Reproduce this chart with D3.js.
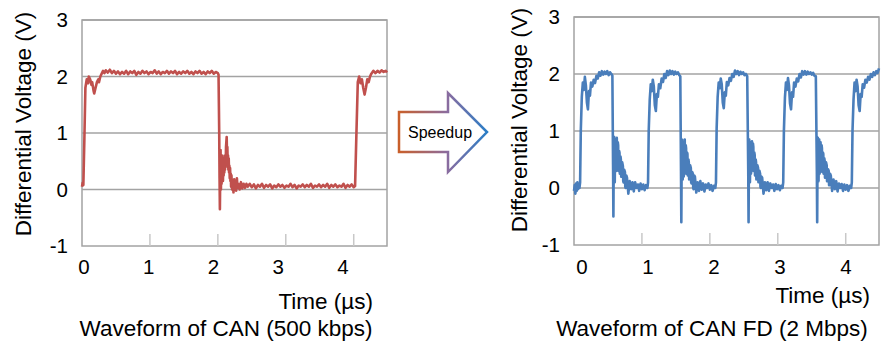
<!DOCTYPE html>
<html>
<head>
<meta charset="utf-8">
<script src="https://cdn.jsdelivr.net/npm/d3@7"></script>
<style>
  body { margin: 0; background: #fff; }
  svg { display: block; font-family: "Liberation Sans", Arial, sans-serif; }
</style>
</head>
<body>
<svg id="canvas" width="883" height="345"></svg>
<script>
// tick values shared by both panels
const voltTicks = [-1, 0, 1, 2, 3];
const timeTicks = [0, 1, 2, 3, 4];

// CAN 500 kbps, [time µs, volts]
const canWave = [
  [0.00,0.05],[0.01,0.12],[0.02,0.08],[0.035,0.9],[0.05,1.8],[0.07,1.95],[0.09,1.88],[0.10,2.0],
  [0.12,1.95],[0.14,1.85],[0.15,1.9],[0.17,1.75],[0.18,1.7],[0.20,1.8],[0.22,1.9],[0.24,1.95],
  [0.25,1.9],[0.27,2.0],[0.29,2.05],[0.31,2.1],[0.33,2.06],[0.35,2.11],[0.38,2.07],[0.41,2.12],
  [0.44,2.06],[0.47,2.1],[0.50,2.05],[0.53,2.09],[0.56,2.04],[0.59,2.08],[0.62,2.05],[0.65,2.1],
  [0.68,2.04],[0.71,2.09],[0.74,2.06],[0.77,2.1],[0.80,2.03],[0.83,2.08],[0.86,2.05],[0.89,2.1],
  [0.92,2.06],[0.95,2.09],[0.98,2.04],[1.01,2.08],[1.04,2.06],[1.07,2.11],[1.10,2.05],[1.13,2.09],
  [1.16,2.04],[1.19,2.08],[1.22,2.06],[1.25,2.1],[1.28,2.05],[1.31,2.09],[1.34,2.06],[1.37,2.1],
  [1.40,2.04],[1.43,2.08],[1.46,2.05],[1.49,2.09],[1.52,2.06],[1.55,2.1],[1.58,2.05],[1.61,2.08],
  [1.64,2.04],[1.67,2.09],[1.70,2.06],[1.73,2.1],[1.76,2.05],[1.79,2.08],[1.82,2.04],[1.85,2.09],
  [1.88,2.06],[1.91,2.1],[1.94,2.05],[1.97,2.08],[2.00,2.06],[2.01,2.03],
  [2.02,1.0],[2.025,0.2],[2.03,-0.35],[2.035,0.3],[2.04,0.7],[2.045,0.0],[2.05,0.4],[2.055,0.1],
  [2.06,0.6],[2.065,0.2],[2.07,0.45],[2.075,0.15],[2.08,0.5],[2.085,0.25],[2.09,0.55],[2.095,0.3],
  [2.10,0.6],[2.105,0.35],[2.11,0.5],[2.115,0.4],[2.12,0.75],[2.13,0.93],[2.135,0.6],[2.14,0.75],
  [2.145,0.45],[2.15,0.6],[2.155,0.35],[2.16,0.55],[2.165,0.3],[2.17,0.42],[2.175,0.2],[2.18,0.38],
  [2.185,0.15],[2.19,0.28],[2.195,0.05],[2.20,0.25],[2.21,0.0],[2.22,0.15],[2.23,-0.05],[2.24,0.18],
  [2.25,0.0],[2.26,0.12],[2.27,-0.02],[2.28,0.2],[2.29,0.03],[2.30,0.1],[2.32,0.0],[2.34,0.13],
  [2.36,0.02],[2.38,0.1],[2.40,0.03],[2.42,0.1],[2.44,0.05],[2.47,0.1],[2.50,0.04],[2.53,0.09],
  [2.56,0.02],[2.59,0.08],[2.62,0.05],[2.65,0.1],[2.68,0.03],[2.71,0.08],[2.74,0.05],[2.77,0.09],
  [2.80,0.02],[2.83,0.07],[2.86,0.04],[2.89,0.09],[2.92,0.05],[2.95,0.08],[2.98,0.03],[3.01,0.07],
  [3.04,0.05],[3.07,0.1],[3.10,0.04],[3.13,0.08],[3.16,0.02],[3.19,0.07],[3.22,0.05],[3.25,0.09],
  [3.28,0.04],[3.31,0.08],[3.34,0.05],[3.37,0.1],[3.40,0.03],[3.43,0.07],[3.46,0.05],[3.49,0.09],
  [3.52,0.04],[3.55,0.08],[3.58,0.05],[3.61,0.1],[3.64,0.03],[3.67,0.08],[3.70,0.05],[3.73,0.09],
  [3.76,0.04],[3.79,0.07],[3.82,0.05],[3.85,0.1],[3.88,0.03],[3.91,0.08],[3.94,0.05],[3.97,0.09],
  [4.00,0.04],[4.02,0.06],[4.04,1.0],[4.06,1.9],[4.08,2.0],[4.10,1.88],[4.12,1.95],[4.14,1.8],
  [4.16,1.68],[4.18,1.8],[4.20,1.95],[4.22,1.9],[4.24,2.0],[4.26,2.05],[4.29,2.1],[4.32,2.06],
  [4.35,2.1],[4.38,2.07],[4.41,2.11],[4.44,2.08],[4.47,2.1],[4.49,2.07]
];

// CAN FD 2 Mbps, [time µs, volts]
const canFdWave = [
  [0.00,-0.05],[0.01,0.05],[0.02,-0.1],[0.03,0.08],[0.04,-0.05],[0.05,0.1],[0.06,-0.02],[0.07,0.05],[0.08,0.0],
  [0.09,0.1],[0.10,1.0],[0.115,1.6],[0.13,1.85],[0.145,1.72],[0.16,1.95],[0.175,1.8],[0.19,1.5],[0.205,1.38],
  [0.22,1.7],[0.235,1.62],[0.25,1.85],[0.27,1.78],[0.29,1.9],[0.31,1.84],[0.33,1.97],[0.35,1.92],[0.37,2.03],
  [0.39,1.97],[0.41,2.05],[0.43,1.99],[0.45,2.04],[0.47,2.0],[0.49,2.05],[0.51,1.98],[0.53,2.03],[0.55,2.0],[0.565,1.97],
  [0.575,0.4],[0.58,-0.5],[0.585,0.5],[0.59,0.9],[0.595,0.2],[0.60,0.1],[0.605,0.6],[0.61,0.85],[0.615,0.3],
  [0.62,0.3],[0.625,0.7],[0.63,0.88],[0.635,0.35],[0.64,0.4],[0.645,0.8],[0.65,0.75],[0.655,0.3],[0.66,0.35],
  [0.665,0.65],[0.67,0.62],[0.675,0.25],[0.68,0.3],[0.685,0.55],[0.69,0.5],[0.695,0.2],[0.70,0.22],[0.71,0.45],
  [0.72,0.38],[0.725,0.12],[0.73,0.1],[0.74,0.32],[0.75,0.28],[0.755,0.02],[0.76,0.0],[0.77,0.22],
  [0.78,0.18],[0.80,-0.1],[0.82,0.12],[0.84,-0.02],[0.86,0.1],[0.88,-0.06],[0.90,0.1],[0.92,0.0],[0.94,0.06],
  [0.96,-0.05],[0.98,0.08],[1.00,-0.02],[1.02,0.06],[1.04,-0.04],[1.06,0.05],[1.08,0.0],
  [1.09,0.1],[1.10,1.0],[1.115,1.55],[1.13,1.82],[1.145,1.7],[1.16,1.9],[1.175,1.78],[1.19,1.45],[1.205,1.35],
  [1.22,1.65],[1.235,1.6],[1.25,1.82],[1.27,1.75],[1.29,1.92],[1.31,1.86],[1.33,2.0],[1.35,1.93],[1.37,2.05],
  [1.39,1.98],[1.41,2.06],[1.43,2.0],[1.45,2.05],[1.47,1.99],[1.49,2.04],[1.51,2.0],[1.53,2.03],[1.55,1.98],[1.565,1.96],
  [1.575,0.3],[1.58,-0.6],[1.585,0.45],[1.59,0.85],[1.595,0.25],[1.60,0.15],[1.605,0.55],[1.61,0.8],[1.615,0.2],
  [1.62,0.25],[1.625,0.7],[1.63,0.85],[1.635,0.4],[1.64,0.45],[1.645,0.75],[1.65,0.7],[1.655,0.25],[1.66,0.3],
  [1.665,0.62],[1.67,0.6],[1.675,0.22],[1.68,0.25],[1.685,0.5],[1.69,0.45],[1.695,0.15],[1.70,0.2],[1.71,0.4],
  [1.72,0.35],[1.725,0.1],[1.73,0.08],[1.74,0.28],[1.75,0.25],[1.755,0.0],[1.76,-0.02],[1.77,0.22],
  [1.78,0.2],[1.80,-0.08],[1.82,0.1],[1.84,-0.05],[1.86,0.12],[1.88,-0.03],[1.90,0.08],[1.92,-0.06],[1.94,0.06],
  [1.96,0.0],[1.98,0.08],[2.00,-0.03],[2.02,0.05],[2.04,-0.05],[2.06,0.04],[2.08,0.0],
  [2.09,0.1],[2.10,1.05],[2.115,1.6],[2.13,1.85],[2.145,1.75],[2.16,1.92],[2.175,1.82],[2.19,1.5],[2.205,1.4],
  [2.22,1.68],[2.235,1.62],[2.25,1.86],[2.27,1.8],[2.29,1.93],[2.31,1.88],[2.33,2.0],[2.35,1.95],[2.37,2.06],
  [2.39,2.0],[2.41,2.05],[2.43,1.98],[2.45,2.04],[2.47,2.0],[2.49,2.03],[2.51,1.98],[2.53,2.0],[2.55,1.96],
  [2.565,0.3],[2.57,-0.6],[2.575,0.5],[2.58,0.85],[2.585,0.2],[2.59,0.1],[2.595,0.6],[2.60,0.8],[2.605,0.25],
  [2.61,0.3],[2.615,0.7],[2.62,0.82],[2.625,0.35],[2.63,0.4],[2.635,0.78],[2.64,0.72],[2.645,0.3],[2.65,0.35],
  [2.655,0.62],[2.66,0.58],[2.665,0.22],[2.67,0.28],[2.675,0.5],[2.68,0.45],[2.685,0.15],[2.69,0.2],[2.70,0.4],
  [2.71,0.35],[2.715,0.1],[2.72,0.1],[2.73,0.3],[2.74,0.25],[2.745,0.02],[2.75,0.0],[2.76,0.2],
  [2.77,0.18],[2.79,-0.1],[2.81,0.1],[2.83,-0.04],[2.85,0.1],[2.87,-0.05],[2.89,0.08],[2.91,0.0],[2.93,0.06],
  [2.95,-0.05],[2.97,0.07],[2.99,-0.02],[3.01,0.05],[3.03,-0.04],[3.05,0.04],[3.07,0.0],
  [3.08,0.1],[3.09,1.0],[3.105,1.58],[3.12,1.85],[3.135,1.72],[3.15,1.93],[3.165,1.8],[3.18,1.48],[3.195,1.38],
  [3.21,1.68],[3.225,1.6],[3.24,1.85],[3.26,1.78],[3.28,1.92],[3.30,1.87],[3.32,2.0],[3.34,1.94],[3.36,2.05],
  [3.38,1.99],[3.40,2.05],[3.42,1.99],[3.44,2.04],[3.46,2.0],[3.48,2.03],[3.50,1.99],[3.52,2.02],[3.54,1.97],[3.56,1.96],
  [3.575,0.3],[3.58,-0.6],[3.585,0.5],[3.59,0.88],[3.595,0.25],[3.60,0.12],[3.605,0.6],[3.61,0.85],[3.615,0.25],
  [3.62,0.3],[3.625,0.7],[3.63,0.8],[3.635,0.38],[3.64,0.42],[3.645,0.75],[3.65,0.7],[3.655,0.28],[3.66,0.32],
  [3.665,0.62],[3.67,0.6],[3.675,0.25],[3.68,0.28],[3.685,0.52],[3.69,0.48],[3.695,0.18],[3.70,0.22],[3.71,0.45],
  [3.72,0.4],[3.725,0.12],[3.73,0.12],[3.74,0.33],[3.75,0.3],[3.755,0.05],[3.76,0.05],[3.77,0.25],
  [3.78,0.22],[3.80,-0.05],[3.82,0.15],[3.84,-0.02],[3.86,0.12],[3.88,-0.06],[3.90,0.08],[3.92,0.0],[3.94,0.07],
  [3.96,-0.05],[3.98,0.06],[4.00,-0.03],[4.02,0.05],[4.04,-0.05],[4.06,0.04],[4.08,0.0],
  [4.09,0.1],[4.10,1.0],[4.115,1.55],[4.13,1.85],[4.145,1.7],[4.16,1.9],[4.175,1.78],[4.19,1.45],[4.205,1.35],
  [4.22,1.65],[4.235,1.6],[4.25,1.82],[4.27,1.76],[4.29,1.9],[4.31,1.85],[4.33,1.95],[4.35,1.9],[4.37,2.0],
  [4.39,1.95],[4.41,2.03],[4.43,1.98],[4.45,2.05],[4.47,2.02],[4.49,2.1]
];

const svg = d3.select('#canvas');
const gridColor = '#a3a3a3';

function drawPanel(p) {
  const x = d3.scaleLinear().domain([0, 4.49]).range([p.left, p.right]);
  const y = d3.scaleLinear().domain([-1, 3]).range([p.bottom, p.top]);
  // tick labels sit a little off the tick marks in the original
  const xLab = d3.scaleLinear().domain([0, 4]).range(p.labelRange);
  const g = svg.append('g');

  g.selectAll('.grid').data(voltTicks.slice(1)).join('line')
    .attr('x1', p.left).attr('x2', p.right)
    .attr('y1', d => y(d)).attr('y2', d => y(d))
    .attr('stroke', gridColor).attr('stroke-width', 1.5);

  g.append('rect')
    .attr('x', p.left).attr('y', p.top)
    .attr('width', p.right - p.left).attr('height', p.bottom - p.top)
    .attr('fill', 'none').attr('stroke', gridColor).attr('stroke-width', 1.5);

  g.selectAll('.xtick').data(timeTicks.slice(1)).join('line')
    .attr('x1', d => x(d)).attr('x2', d => x(d))
    .attr('y1', p.bottom).attr('y2', p.bottom - 12)
    .attr('stroke', '#c8c8c8').attr('stroke-width', 1.5);

  const line = d3.line().x(d => x(d[0])).y(d => y(d[1]));
  g.append('path').datum(p.data)
    .attr('d', line)
    .attr('fill', 'none')
    .attr('stroke', p.color)
    .attr('stroke-width', 2.6)
    .attr('stroke-linejoin', 'round');

  g.selectAll('.ylab').data(voltTicks).join('text')
    .attr('x', p.left - 14).attr('y', d => y(d))
    .attr('dy', '0.35em').attr('text-anchor', 'end')
    .attr('font-size', 20.5)
    .text(d => d);

  g.selectAll('.xlab').data(timeTicks).join('text')
    .attr('x', d => xLab(d)).attr('y', 274)
    .attr('text-anchor', 'middle')
    .attr('font-size', 20.5)
    .text(d => d);

  g.append('text')
    .attr('transform', `translate(${p.yTitleX},${p.yTitleY}) rotate(-90)`)
    .attr('dy', '0.35em').attr('text-anchor', 'middle')
    .attr('font-size', 22.5)
    .text('Differential Voltage (V)');

  g.append('text')
    .attr('x', p.timeX).attr('y', p.timeY)
    .attr('text-anchor', 'end').attr('font-size', 22.5)
    .text('Time (µs)');

  g.append('text')
    .attr('x', p.capX).attr('y', 336)
    .attr('text-anchor', 'middle').attr('font-size', 22.5)
    .text(p.caption);
}

drawPanel({
  data: canWave, color: '#c0504d',
  left: 82, right: 387, top: 20, bottom: 246,
  labelRange: [84, 343],
  yTitleX: 23, yTitleY: 124,
  timeX: 373, timeY: 309,
  capX: 226, caption: 'Waveform of CAN (500 kbps)'
});

drawPanel({
  data: canFdWave, color: '#4a7ebb',
  left: 574, right: 879, top: 17, bottom: 245,
  labelRange: [582, 846],
  yTitleX: 519, yTitleY: 120,
  timeX: 870, timeY: 303,
  capX: 712, caption: 'Waveform of CAN FD (2 Mbps)'
});

// speedup arrow between the panels
const defs = svg.append('defs');
const grad = defs.append('linearGradient').attr('id', 'arrowGrad')
  .attr('x1', '0%').attr('x2', '100%').attr('y1', '0%').attr('y2', '0%');
grad.append('stop').attr('offset', '0%').attr('stop-color', '#c95f2a');
grad.append('stop').attr('offset', '55%').attr('stop-color', '#8a6c9f');
grad.append('stop').attr('offset', '100%').attr('stop-color', '#2a7dc6');

const arrowPts = [[399, 112], [448, 112], [448, 93], [487, 132], [448, 172], [448, 152], [399, 152]];
svg.append('polygon')
  .attr('points', arrowPts.map(d => d.join(',')).join(' '))
  .attr('fill', '#fff')
  .attr('stroke', 'url(#arrowGrad)')
  .attr('stroke-width', 2.5);

svg.append('text')
  .attr('x', 440).attr('y', 132).attr('dy', '0.35em')
  .attr('text-anchor', 'middle').attr('font-size', 16)
  .text('Speedup');
</script>
</body>
</html>
